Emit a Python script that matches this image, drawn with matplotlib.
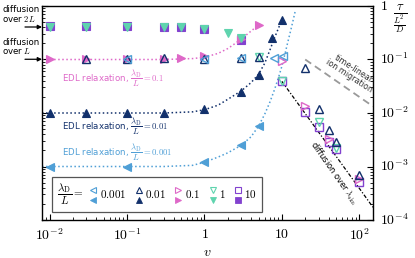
import numpy as np
import matplotlib
matplotlib.use('Agg')
import matplotlib.pyplot as plt
from matplotlib.lines import Line2D
from matplotlib.legend_handler import HandlerBase
from matplotlib.offsetbox import HPacker
from matplotlib.ticker import LogLocator, NullFormatter, FixedLocator

plt.rcParams['mathtext.fontset'] = 'cm'
plt.rcParams['font.family'] = ['DejaVu Sans']

# ---------------- data ----------------
lambdas = ['0.001', '0.01', '0.1', '1', '10']

# filled markers (EDL relaxation / low drift)
v_f_0001 = [0.01, 0.1, 1, 3, 5]
t_f_0001 = [0.001, 0.001, 0.0012, 0.0025, 0.0057]
v_f_001 = [0.01, 0.03, 0.1, 0.3, 1, 3, 5, 7.5, 10]
t_f_001 = [0.01, 0.01, 0.01, 0.01, 0.012, 0.025, 0.052, 0.25, 0.55]
v_f_01 = [0.01, 0.03, 0.1, 0.3, 0.5, 1, 3, 5]
t_f_01 = [0.1, 0.1, 0.1, 0.1, 0.105, 0.115, 0.24, 0.45]
v_f_1 = [0.01, 0.03, 0.1, 0.3, 0.5, 1, 2, 3]
t_f_1 = [0.41, 0.41, 0.41, 0.40, 0.40, 0.37, 0.31, 0.25]
v_f_10 = [0.01, 0.03, 0.1, 0.3, 0.5, 1, 3]
t_f_10 = [0.42, 0.42, 0.42, 0.40, 0.40, 0.37, 0.235]

# open markers
v_o_0001 = [0.1, 1, 3, 7.8, 10.4]
t_o_0001 = [0.1, 0.1, 0.105, 0.107, 0.115]
v_o_001 = [0.03, 0.1, 0.3, 1, 3, 5, 20, 30, 40, 50, 100]
t_o_001 = [0.1, 0.1, 0.105, 0.1, 0.107, 0.11, 0.07, 0.012, 0.0049, 0.0029, 0.0007]
v_o_01 = [10, 20, 40, 100]
t_o_01 = [0.093, 0.0133, 0.0032, 0.00058]
v_o_1 = [5, 10, 30, 50]
t_o_1 = [0.11, 0.039, 0.0068, 0.0022]
v_o_10 = [10, 20, 30, 40, 50, 100]
t_o_10 = [0.039, 0.0103, 0.0055, 0.0029, 0.0021, 0.00052]

# dotted EDL relaxation curves
v_c_01 = [0.008, 0.3, 0.7, 1, 1.5, 2, 2.5, 3, 3.5, 4, 4.5, 5]
t_c_01 = [0.1, 0.1, 0.104, 0.11, 0.13, 0.16, 0.2, 0.245, 0.29, 0.34, 0.39, 0.45]
v_c_001 = [0.008, 0.3, 0.7, 1, 1.5, 2, 3, 4, 5, 6, 7, 8, 9, 10]
t_c_001 = [0.01, 0.01, 0.0105, 0.0115, 0.014, 0.018, 0.026, 0.037, 0.053, 0.085, 0.15, 0.25, 0.38, 0.55]
v_c_0001 = [0.008, 0.3, 0.7, 1, 1.5, 2, 3, 4, 5, 6, 7, 8, 9, 10, 11, 12, 13, 14, 15]
t_c_0001 = [0.001, 0.001, 0.00105, 0.0012, 0.0015, 0.0018, 0.0025, 0.0036, 0.0057, 0.0095,
            0.016, 0.027, 0.045, 0.075, 0.13, 0.22, 0.35, 0.55, 0.85]

# reference lines
v_lin = [20, 150]
t_lin = [0.1, 0.0133]
v_sim = [10, 150]
t_sim = [0.039, 0.000173]

tau_2L = 0.405
tau_L = 0.101

x_ticks = [1e-2, 1e-1, 1, 10, 100]
x_ticklabels = ['$10^{-2}$', '$10^{-1}$', '$1$', '$10$', '$10^{2}$']
y_ticks = [1e-4, 1e-3, 1e-2, 1e-1, 1]
y_ticklabels = ['$10^{-4}$', '$10^{-3}$', '$10^{-2}$', '$10^{-1}$', '$1$']

# ---------------- style ----------------
C = {'0.001': '#4f9fd6', '0.01': '#12306b', '0.1': '#de68c8',
     '1': '#5fd4ae', '10': '#8242cf'}
MK = {'0.001': '<', '0.01': '^', '0.1': '>', '1': 'v', '10': 's'}
MS = 6.2

fig = plt.figure(figsize=(4.15, 2.58), dpi=100)
ax = fig.add_axes([42 / 415, 1 - 220 / 258, 331 / 415, 214 / 258])
ax.set_xscale('log')
ax.set_yscale('log')

# curves
ax.plot(v_c_01, t_c_01, ls=':', color=C['0.1'], lw=1.1, zorder=2)
ax.plot(v_c_001, t_c_001, ls=':', color=C['0.01'], lw=1.1, zorder=2)
ax.plot(v_c_0001, t_c_0001, ls=':', color=C['0.001'], lw=1.1, zorder=2)
ax.plot(v_lin, t_lin, ls=(0, (4, 2.5)), color='#999999', lw=1.3, zorder=2)
ax.plot(v_sim, t_sim, ls=(0, (3, 1.5, 1, 1.5)), color='black', lw=0.9, zorder=2)

filled = {'10': (v_f_10, t_f_10), '0.1': (v_f_01, t_f_01), '1': (v_f_1, t_f_1),
          '0.01': (v_f_001, t_f_001), '0.001': (v_f_0001, t_f_0001)}
opened = {'10': (v_o_10, t_o_10), '0.1': (v_o_01, t_o_01), '1': (v_o_1, t_o_1),
          '0.01': (v_o_001, t_o_001), '0.001': (v_o_0001, t_o_0001)}
for k, (vv, tt) in filled.items():
    ax.plot(vv, tt, ls='none', marker=MK[k], ms=MS, mfc=C[k], mec=C[k], mew=0.8, zorder=3)
for k, (vv, tt) in opened.items():
    ax.plot(vv, tt, ls='none', marker=MK[k], ms=MS, mfc='none', mec=C[k], mew=1.0, zorder=4)

ax.set_xlim(0.008, 150)
ax.set_ylim(1e-4, 1)

ax.xaxis.set_major_locator(FixedLocator(x_ticks))
ax.set_xticklabels(x_ticklabels)
ax.yaxis.set_major_locator(FixedLocator(y_ticks))
ax.yaxis.set_major_formatter(NullFormatter())
for axis in (ax.xaxis, ax.yaxis):
    axis.set_minor_locator(LogLocator(base=10, subs=np.arange(2, 10), numticks=20))
    axis.set_minor_formatter(NullFormatter())

ax.tick_params(axis='both', which='both', direction='in', labelsize=10)
ax.tick_params(axis='y', which='both', left=True, right=True, labelleft=False, labelright=False)
ax.tick_params(axis='x', which='both', top=False, pad=5)
ax.tick_params(which='major', length=4, width=0.8)
ax.tick_params(which='minor', length=2, width=0.6)
for s in ax.spines.values():
    s.set_linewidth(1.0)

# right-hand tick labels as explicit texts at the tick positions
ytr = ax.get_yaxis_transform()
for yt, yl in zip(y_ticks, y_ticklabels):
    ax.text(1.0 + 7 / 331, yt, yl, transform=ytr, ha='left', va='center', fontsize=10,
            color='black', clip_on=False, zorder=10)

ax.set_xlabel('$v$', fontsize=10, labelpad=2)
fig.text(400 / 415, 1 - 3 / 258, r'$\frac{\tau}{\frac{L^2}{D}}$', ha='center', va='top', fontsize=13)

# annotations
ax.text(0.0145, 0.045, r'EDL relaxation, $\dfrac{\lambda_\mathrm{D}}{L} = 0.1$', color=C['0.1'], fontsize=6.2, va='center')
ax.text(0.0145, 0.0055, r'EDL relaxation, $\dfrac{\lambda_\mathrm{D}}{L} = 0.01$', color=C['0.01'], fontsize=6.2, va='center')
ax.text(0.0145, 0.0018, r'EDL relaxation, $\dfrac{\lambda_\mathrm{D}}{L} = 0.001$', color=C['0.001'], fontsize=6.2, va='center')
ax.text(78, 0.058, 'time-linear\nion migration', color='#333333', fontsize=5.8, rotation=-33,
        ha='center', va='center', linespacing=0.9, rotation_mode='anchor')
ax.text(46, 0.00075, r'diffusion over $\lambda_\mathrm{sim}$', color='black', fontsize=6, rotation=-55,
        ha='center', va='center', rotation_mode='anchor')

for tau, lab in ((tau_2L, 'diffusion\nover $2L$'), (tau_L, 'diffusion\nover $L$')):
    ax.annotate('', xy=(0, tau), xycoords=('axes fraction', 'data'), xytext=(-17, 0),
                textcoords='offset pixels',
                arrowprops=dict(arrowstyle='-|>', color='black', lw=0.9, mutation_scale=6,
                                shrinkA=0, shrinkB=0), annotation_clip=False)
    ax.annotate(lab, xy=(0, tau), xycoords=('axes fraction', 'data'), xytext=(-40, 3),
                textcoords='offset pixels', ha='left', va='bottom', fontsize=6.2,
                linespacing=0.95, annotation_clip=False)


# legend with vertically stacked open / filled markers
class VStack(HandlerBase):
    def create_artists(self, legend, orig_handle, xdescent, ydescent, width, height, fontsize, trans):
        arts = []
        for i, h in enumerate(orig_handle):
            y = height / 2 - ydescent + (0.45 if i == 0 else -0.45) * fontsize
            ln = Line2D([width / 2 - xdescent], [y], ls='none', marker=h.get_marker(),
                        ms=h.get_markersize(), mfc=h.get_markerfacecolor(),
                        mec=h.get_markeredgecolor(), mew=h.get_markeredgewidth(), transform=trans)
            arts.append(ln)
        return arts


handles = []
for k in lambdas:
    ho = Line2D([], [], ls='none', marker=MK[k], ms=4.2, mfc='none', mec=C[k], mew=0.8)
    hf = Line2D([], [], ls='none', marker=MK[k], ms=4.2, mfc=C[k], mec=C[k], mew=0.6)
    handles.append((ho, hf))
labels = ['$%s$' % k for k in lambdas]
leg = ax.legend(handles, labels, handler_map={tuple: VStack()}, ncol=5, loc='lower left',
                bbox_to_anchor=(0.03, 0.037), fontsize=8, frameon=True, fancybox=False,
                edgecolor='#555555', framealpha=1, title=r'$\dfrac{\lambda_\mathrm{D}}{L} =$',
                title_fontsize=8, borderpad=0.45, handlelength=0.6, handletextpad=0.25,
                columnspacing=0.85, borderaxespad=0)
leg.get_frame().set_linewidth(0.9)
try:
    fs = leg._fontsize
    box = HPacker(pad=leg.borderpad * fs, sep=0.6 * fs, align='center',
                  children=[leg._legend_title_box, leg._legend_handle_box])
    box.set_figure(fig)
    box.axes = ax
    box.set_offset(leg._findoffset)
    leg._legend_box = box
except Exception:
    pass

fig.savefig('out.png', dpi=100)
